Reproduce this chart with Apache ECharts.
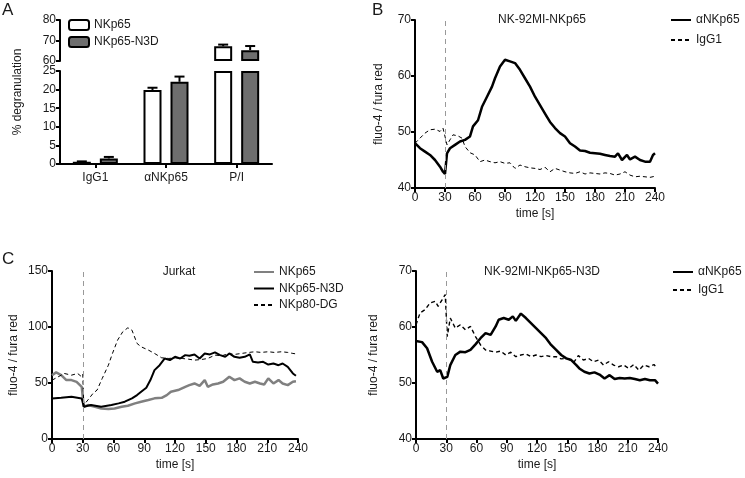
<!DOCTYPE html>
<html>
<head>
<meta charset="utf-8">
<script src="https://cdn.jsdelivr.net/npm/echarts@6/dist/echarts.min.js"></script>
<style>
  html, body { margin: 0; padding: 0; background: #fff; }
  #main { width: 745px; height: 478px; }
</style>
</head>
<body>
<div id="main"></div>
<script>
// panel A: % degranulation (mean + error)
var aCategories = ['IgG1', 'αNKp65', 'P/I'];
var aNKp65 = [0.6, 19.9, 67.2];
var aNKp65Err = [0.1, 0.6, 0.8];
var aN3D = [1.5, 22.1, 65.3];
var aN3DErr = [0.4, 1.4, 2.0];

// panel B: NK-92MI-NKp65, [time, fluo-4/fura red]
var bAnti = [[0,48.0],[5,47.1],[10,46.5],[15,45.9],[20,45.0],[25,43.8],[28,42.9],[30,42.5],[32,46.2],[35,47.1],[40,47.7],[45,48.3],[50,48.6],[55,49.2],[58,51.0],[63,52.1],[67,54.5],[72,56.3],[77,58.1],[80,59.6],[85,61.7],[90,62.9],[95,62.6],[100,62.3],[105,61.1],[110,59.6],[115,58.1],[120,56.3],[125,54.8],[130,53.3],[135,51.8],[140,50.7],[145,49.8],[150,49.2],[155,48.0],[160,47.4],[165,46.7],[170,46.6],[175,46.3],[180,46.2],[185,46.1],[190,45.9],[195,45.7],[200,45.6],[203,46.2],[207,45.0],[212,45.9],[215,45.1],[220,45.6],[225,45.0],[230,44.7],[235,44.7],[238,45.9],[240,46.2]];
var bIgG1 = [[0,48.0],[5,48.9],[10,49.8],[15,50.4],[20,50.5],[25,50.1],[28,50.7],[30,51.0],[32,47.7],[35,48.6],[38,49.5],[43,49.3],[47,48.9],[50,47.4],[55,46.3],[60,45.9],[65,44.7],[70,45.0],[75,44.7],[80,44.5],[85,44.7],[90,44.4],[95,44.5],[100,43.5],[102,43.2],[105,44.1],[110,43.8],[115,43.6],[120,43.5],[125,43.3],[130,43.7],[135,42.9],[140,43.5],[145,43.2],[150,42.9],[155,42.7],[160,42.6],[165,42.9],[170,42.5],[175,42.7],[180,42.6],[185,42.5],[190,42.7],[195,42.6],[200,42.3],[205,42.5],[210,42.9],[215,42.3],[220,42.0],[225,42.1],[230,42.0],[235,41.9],[240,42.1]];

// panel C: Jurkat
var cNKp65 = [[0,57],[4,59.5],[9,57],[14,52.6],[19,52.6],[24,51],[29,46.5],[31,28.8],[35,30.3],[42,28.8],[48,27.3],[55,26.7],[61,27.3],[68,28.8],[74,29.7],[81,31.8],[87,33.3],[94,34.8],[100,36.3],[107,36.8],[112,39.2],[116,42.2],[123,43.7],[130,46.6],[134,48.1],[139,49.6],[144,47.5],[149,52.6],[152,46.6],[157,48.7],[162,49.6],[167,51.1],[173,55.6],[178,52.6],[183,54.1],[188,51.1],[193,49.6],[198,51.1],[203,49.6],[207,48.7],[211,54.1],[216,49.6],[221,52.6],[225,49.6],[230,48.1],[235,51.1],[238,51.5]];
var cN3D = [[0,36.2],[9,36.8],[19,37.7],[29,36.2],[31,28.8],[38,30.3],[48,28.8],[58,30.3],[65,31.8],[71,33.3],[78,36.3],[83,39.2],[87,42.2],[92,45.8],[96,52.6],[100,61.5],[105,65.9],[110,71.9],[115,70.4],[120,73.4],[125,71.9],[130,74.9],[134,74.3],[139,75.5],[144,71.9],[149,76.4],[154,75.5],[159,77.3],[164,74.9],[169,73.4],[173,76.4],[178,73.4],[183,72.5],[188,73.4],[193,75.5],[196,68.9],[201,68.3],[206,68.9],[211,66.5],[216,67.4],[221,65.9],[225,67.4],[230,64.4],[235,58.5],[238,56.5]];
var cNKp80 = [[0,52.5],[6,55.5],[12,58.5],[19,57],[25,58.5],[29,55.5],[30,57.7],[31,30.3],[35,34.8],[40,40.7],[44,43.7],[49,54.1],[55,65.9],[59,76.4],[64,88.3],[69,95.7],[74,99.3],[78,97.2],[83,85.3],[87,82.3],[94,79.4],[100,76.4],[107,72.5],[114,71.9],[120,72.5],[127,71.9],[133,71.3],[139,70.4],[146,71],[152,71.9],[159,74.9],[166,74.3],[172,76.4],[178,75.5],[185,76.4],[192,77.3],[198,77.9],[204,77.3],[211,77.9],[217,77.3],[224,77.9],[230,77.3],[235,76.4],[238,76.0]];

// panel D: NK-92MI-NKp65-N3D
var dAnti = [[0,57.5],[6,57.3],[11,56.2],[16,53.8],[21,52.0],[24,52.3],[27,50.8],[31,51.1],[34,53.2],[39,55.0],[44,55.6],[49,55.5],[54,55.9],[59,56.9],[64,58.0],[69,58.9],[74,58.6],[79,60.1],[82,61.3],[87,61.6],[92,61.3],[96,61.9],[99,61.1],[104,62.4],[109,61.6],[114,60.7],[119,59.8],[124,58.9],[129,58.0],[134,56.8],[139,55.9],[144,55.0],[149,54.4],[154,54.1],[159,53.2],[162,52.6],[167,52.0],[172,51.7],[177,51.9],[182,51.5],[187,50.8],[192,51.4],[197,50.7],[202,50.9],[207,50.8],[212,50.9],[217,50.7],[222,50.5],[227,50.7],[232,50.5],[237,50.5],[240,49.9]];
var dIgG1 = [[0,60.4],[4,62.5],[9,63.1],[14,64.3],[19,64.6],[22,63.7],[26,64.9],[29,65.8],[31,58.3],[34,61.6],[39,59.8],[44,60.4],[49,59.5],[54,60.1],[59,58.3],[64,56.8],[69,55.9],[74,55.7],[79,55.5],[84,55.7],[89,55.0],[94,55.5],[99,54.7],[104,55.0],[109,55.2],[114,54.7],[119,55.0],[124,54.7],[129,54.9],[134,54.7],[139,54.7],[144,54.3],[149,54.4],[154,54.1],[157,53.8],[161,54.9],[166,54.1],[171,54.4],[176,53.8],[181,54.1],[186,53.2],[191,53.8],[196,53.2],[201,52.9],[206,53.2],[211,52.6],[216,53.3],[221,52.3],[226,53.2],[231,52.9],[236,53.3],[239,52.6]];

var FONT = "'Liberation Sans', Arial, sans-serif";
var TXT = '#1a1a1a';
var BREAK_LOW = 25, BREAK_HIGH = 60;

var chart = echarts.init(document.getElementById('main'), null, {renderer: 'canvas'});

function axisStyle(extra) {
    var base = {
        axisLine: {show: true, onZero: false, lineStyle: {color: '#000', width: 2}},
        axisTick: {show: true, length: 4, lineStyle: {color: '#000', width: 2}},
        axisLabel: {color: TXT, fontSize: 12, fontFamily: FONT, margin: 4},
        splitLine: {show: false},
        nameTextStyle: {color: TXT, fontSize: 12, fontFamily: FONT}
    };
    for (var k in extra) base[k] = extra[k];
    return base;
}

function timeAxis(grid) {
    return axisStyle({
        type: 'value', gridIndex: grid, min: 0, max: 240, interval: 30,
        name: 'time [s]', nameLocation: 'middle', nameGap: 20
    });
}

function ratioAxis(grid, min, max, step, gap) {
    return axisStyle({
        type: 'value', gridIndex: grid, min: min, max: max, interval: step,
        name: 'fluo-4 / fura red', nameLocation: 'middle', nameGap: gap
    });
}

// error bar (upward only) drawn next to the bar centre
function errorBar(offset) {
    return function (params, api) {
        var idx = api.value(0), val = api.value(1), err = api.value(2);
        var p0 = api.coord([idx, val]);
        var p1 = api.coord([idx, val + err]);
        var x = p0[0] + offset;
        return {
            type: 'group',
            children: [
                {type: 'line', shape: {x1: x, y1: p0[1], x2: x, y2: p1[1]}, style: {stroke: '#000', lineWidth: 2}},
                {type: 'line', shape: {x1: x - 5, y1: p1[1], x2: x + 5, y2: p1[1]}, style: {stroke: '#000', lineWidth: 2}}
            ]
        };
    };
}

function errData(vals, errs, upper) {
    var out = [];
    for (var i = 0; i < vals.length; i++) {
        if (upper ? vals[i] >= BREAK_HIGH : vals[i] < BREAK_LOW) out.push([i, vals[i], errs[i]]);
    }
    return out;
}

// upper segment of the broken axis: invisible base up to 60, then the rest
var baseOf = function (v) { return v >= BREAK_HIGH ? BREAK_HIGH : '-'; };
var restOf = function (v) { return v >= BREAK_HIGH ? +(v - BREAK_HIGH).toFixed(2) : '-'; };
var lowerOf = function (v) { return Math.min(v, BREAK_LOW); };

var barStyleW = {color: '#fff', borderColor: '#000', borderWidth: 2};
var barStyleG = {color: '#6e6e6e', borderColor: '#000', borderWidth: 2};
var barStyleNone = {color: 'rgba(0,0,0,0)', borderWidth: 0};

var dashV = {
    silent: true, symbol: 'none', label: {show: false},
    lineStyle: {color: '#999', type: [5, 4], width: 1},
    data: [{xAxis: 30}]
};

function line(name, grid, data, color, width, type, mark) {
    var s = {
        name: name, type: 'line', xAxisIndex: grid, yAxisIndex: grid,
        data: data, symbol: 'none', showSymbol: false,
        lineStyle: {color: color, width: width, type: type},
        itemStyle: {color: color}
    };
    if (mark) s.markLine = dashV;
    return s;
}

function lineLegend(left, top, gap, names) {
    return {
        left: left, top: top, padding: 0, orient: 'vertical', itemWidth: 20, itemHeight: 14, itemGap: gap,
        data: names, selectedMode: false,
        itemStyle: {opacity: 0},
        formatter: function (n) { return n.replace('Jurkat ', '').trim(); },
        textStyle: {color: TXT, fontSize: 12, fontFamily: FONT, lineHeight: 14}
    };
}

function label(text, x, y, size, align) {
    return {
        type: 'text', x: x, y: y,
        style: {text: text, fill: TXT, font: size + 'px ' + FONT, textAlign: align || 'center', textVerticalAlign: 'middle'}
    };
}

option = {
    animation: false,
    backgroundColor: '#fff',
    grid: [
        {left: 60, top: 20, width: 212, height: 41},
        {left: 60, top: 71, width: 212, height: 93},
        {left: 415, top: 20, width: 240, height: 168},
        {left: 52, top: 271, width: 246, height: 168},
        {left: 416, top: 271, width: 242, height: 168}
    ],
    xAxis: [
        {type: 'category', gridIndex: 0, data: aCategories, show: false},
        axisStyle({type: 'category', gridIndex: 1, data: aCategories,
            axisTick: {show: true, alignWithLabel: true, length: 4, lineStyle: {color: '#000', width: 2}},
            axisLabel: {color: TXT, fontSize: 12, fontFamily: FONT, margin: 8}}),
        timeAxis(2),
        timeAxis(3),
        timeAxis(4)
    ],
    yAxis: [
        axisStyle({type: 'value', gridIndex: 0, min: 60, max: 80, interval: 10}),
        axisStyle({type: 'value', gridIndex: 1, min: 0, max: 25, interval: 5}),
        ratioAxis(2, 40, 70, 10, 30),
        ratioAxis(3, 0, 150, 50, 32),
        ratioAxis(4, 40, 70, 10, 36)
    ],
    legend: [
        {
            left: 68, top: 18, padding: 0, orient: 'vertical', itemWidth: 20, itemHeight: 10, itemGap: 3,
            data: ['NKp65', 'NKp65-N3D'], selectedMode: false,
            textStyle: {color: TXT, fontSize: 12, fontFamily: FONT, lineHeight: 14}
        },
        lineLegend(670, 13, 6, ['αNKp65', 'IgG1']),
        lineLegend(253, 265, 2.5, ['Jurkat NKp65', 'Jurkat NKp65-N3D', 'NKp80-DG']),
        lineLegend(672, 265, 4, ['αNKp65 ', 'IgG1 '])
    ],
    graphic: [
        label('A', 2, 10, 17, 'left'),
        label('B', 372, 10, 17, 'left'),
        label('C', 2, 259, 17, 'left'),
        {
            type: 'text', x: 18, y: 92, rotation: Math.PI / 2,
            style: {text: '% degranulation', fill: TXT, font: '12px ' + FONT, textAlign: 'center', textVerticalAlign: 'middle'}
        },
        label('NK-92MI-NKp65', 542, 20, 12),
        label('Jurkat', 179, 272, 12),
        label('NK-92MI-NKp65-N3D', 542, 272, 12)
    ],
    series: [
        {type: 'bar', stack: 'w', xAxisIndex: 0, yAxisIndex: 0, data: aNKp65.map(baseOf),
            barWidth: 18, barGap: '50%', itemStyle: barStyleNone, silent: true},
        {name: 'NKp65', type: 'bar', stack: 'w', xAxisIndex: 0, yAxisIndex: 0, data: aNKp65.map(restOf),
            barWidth: 18, barGap: '50%', itemStyle: barStyleW},
        {type: 'bar', stack: 'g', xAxisIndex: 0, yAxisIndex: 0, data: aN3D.map(baseOf),
            barWidth: 18, barGap: '50%', itemStyle: barStyleNone, silent: true},
        {name: 'NKp65-N3D', type: 'bar', stack: 'g', xAxisIndex: 0, yAxisIndex: 0, data: aN3D.map(restOf),
            barWidth: 18, barGap: '50%', itemStyle: barStyleG},
        {name: 'NKp65', type: 'bar', xAxisIndex: 1, yAxisIndex: 1, data: aNKp65.map(lowerOf),
            barWidth: 18, barGap: '50%', itemStyle: barStyleW, clip: false},
        {name: 'NKp65-N3D', type: 'bar', xAxisIndex: 1, yAxisIndex: 1, data: aN3D.map(lowerOf),
            barWidth: 18, barGap: '50%', itemStyle: barStyleG, clip: false},
        {type: 'custom', xAxisIndex: 0, yAxisIndex: 0, renderItem: errorBar(-13.5), data: errData(aNKp65, aNKp65Err, true), encode: {x: 0, y: 1}, z: 5},
        {type: 'custom', xAxisIndex: 0, yAxisIndex: 0, renderItem: errorBar(13.5), data: errData(aN3D, aN3DErr, true), encode: {x: 0, y: 1}, z: 5},
        {type: 'custom', xAxisIndex: 1, yAxisIndex: 1, renderItem: errorBar(-13.5), data: errData(aNKp65, aNKp65Err, false), encode: {x: 0, y: 1}, z: 5},
        {type: 'custom', xAxisIndex: 1, yAxisIndex: 1, renderItem: errorBar(13.5), data: errData(aN3D, aN3DErr, false), encode: {x: 0, y: 1}, z: 5},

        line('αNKp65', 2, bAnti, '#000', 2.5, 'solid', true),
        line('IgG1', 2, bIgG1, '#000', 1, [4, 3], false),

        line('Jurkat NKp65', 3, cNKp65, '#808080', 2.5, 'solid', true),
        line('Jurkat NKp65-N3D', 3, cN3D, '#000', 2, 'solid', false),
        line('NKp80-DG', 3, cNKp80, '#000', 1, [4, 3], false),

        line('αNKp65 ', 4, dAnti, '#000', 2.5, 'solid', true),
        line('IgG1 ', 4, dIgG1, '#000', 1.4, [4, 3], false)
    ]
};

chart.setOption(option);
</script>
</body>
</html>
